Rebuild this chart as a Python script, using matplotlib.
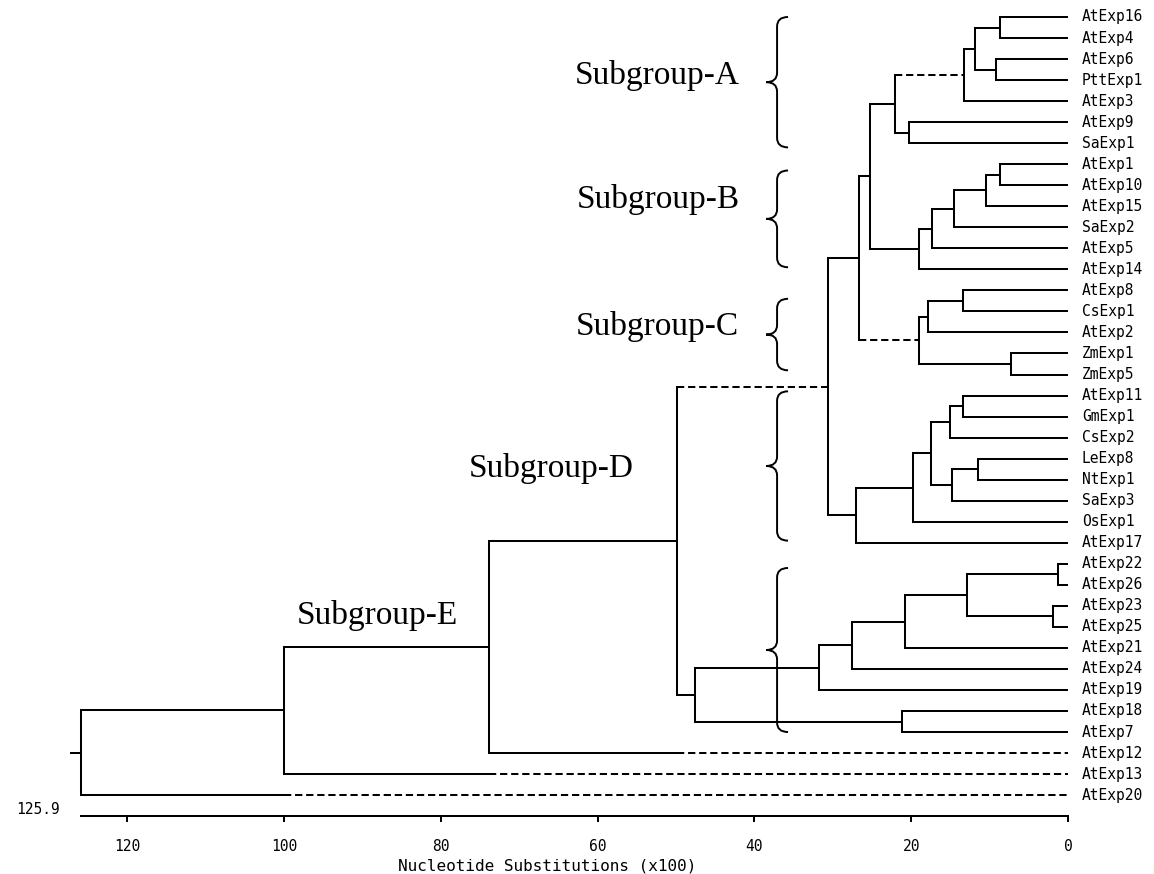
import matplotlib.pyplot as plt
from matplotlib.path import Path
from matplotlib.patches import PathPatch

# leaf order, top to bottom
leaves = ["AtExp16", "AtExp4", "AtExp6", "PttExp1", "AtExp3", "AtExp9", "SaExp1",
          "AtExp1", "AtExp10", "AtExp15", "SaExp2", "AtExp5", "AtExp14",
          "AtExp8", "CsExp1", "AtExp2", "ZmExp1", "ZmExp5",
          "AtExp11", "GmExp1", "CsExp2", "LeExp8", "NtExp1", "SaExp3", "OsExp1", "AtExp17",
          "AtExp22", "AtExp26", "AtExp23", "AtExp25", "AtExp21", "AtExp24", "AtExp19",
          "AtExp18", "AtExp7", "AtExp12", "AtExp13", "AtExp20"]

# internal nodes: (node, child, child, height in substitutions x100)
merges = [
    ("n1", "AtExp16", "AtExp4", 8.7),
    ("n2", "AtExp6", "PttExp1", 9.2),
    ("n3", "n1", "n2", 11.8),
    ("n4", "n3", "AtExp3", 13.2),
    ("n5", "AtExp9", "SaExp1", 20.3),
    ("n6", "n4", "n5", 22.0),
    ("n7", "AtExp1", "AtExp10", 8.7),
    ("n8", "n7", "AtExp15", 10.4),
    ("n9", "n8", "SaExp2", 14.5),
    ("n10", "n9", "AtExp5", 17.3),
    ("n11", "n10", "AtExp14", 19.0),
    ("n12", "n6", "n11", 25.3),
    ("n13", "AtExp8", "CsExp1", 13.4),
    ("n14", "n13", "AtExp2", 17.9),
    ("n15", "ZmExp1", "ZmExp5", 7.3),
    ("n16", "n14", "n15", 19.0),
    ("n17", "n12", "n16", 26.6),
    ("n18", "AtExp11", "GmExp1", 13.4),
    ("n19", "n18", "CsExp2", 15.1),
    ("n20", "LeExp8", "NtExp1", 11.5),
    ("n21", "n20", "SaExp3", 14.8),
    ("n22", "n19", "n21", 17.5),
    ("n23", "n22", "OsExp1", 19.8),
    ("n24", "n23", "AtExp17", 27.0),
    ("n25", "n17", "n24", 30.6),
    ("n26", "AtExp22", "AtExp26", 1.3),
    ("n27", "AtExp23", "AtExp25", 1.9),
    ("n28", "n26", "n27", 12.9),
    ("n29", "n28", "AtExp21", 20.8),
    ("n30", "n29", "AtExp24", 27.5),
    ("n31", "n30", "AtExp19", 31.7),
    ("n32", "AtExp18", "AtExp7", 21.2),
    ("n33", "n31", "n32", 47.6),
    ("n34", "n25", "n33", 49.85),
    ("n35", "n34", "AtExp12", 73.8),
    ("n36", "n35", "AtExp13", 100.0),
    ("n37", "n36", "AtExp20", 125.9),
]

# branches drawn dashed over their whole length
dashed_branches = ["n4", "n16", "n25"]
# long leaf branches turn dashed past this height
dash_from = {"AtExp12": 49.85, "AtExp13": 73.8, "AtExp20": 100.0}

root_height = 125.9
xticks = [0, 20, 40, 60, 80, 100, 120]

subgroups = ["Subgroup-A", "Subgroup-B", "Subgroup-C", "Subgroup-D", "Subgroup-E"]
# brace extent in leaf rows and label anchor (x, row)
brace_spans = [(0.0, 6.2), (7.3, 11.9), (13.4, 16.8), (17.8, 24.9), (26.2, 34.0)]
label_pos = [(41.8, 2.76), (41.8, 8.7), (42.0, 14.74), (55.4, 21.45), (77.8, 28.44)]

LW = 1.45
DASH = (3.6, 1.9)

fig = plt.figure(figsize=(11.54, 8.74), dpi=100)
ax = fig.add_axes([0, 0.0662, 1, 0.9338])
ax.set_xlim(136.2, -10.97)
ax.set_ylim(len(leaves), -0.808)

ypos = {name: i for i, name in enumerate(leaves)}
xpos = {name: 0.0 for name in leaves}
for node, a, b, h in merges:
    ypos[node] = (ypos[a] + ypos[b]) / 2
    xpos[node] = h


def branch(x0, x1, y, dashed=False):
    if dashed:
        ax.plot([x0, x1], [y, y], color="black", lw=LW, dashes=DASH,
                solid_capstyle="butt")
    else:
        ax.plot([x0, x1], [y, y], color="black", lw=LW, solid_capstyle="butt")


for node, a, b, h in merges:
    ax.plot([h, h], [ypos[a], ypos[b]], color="black", lw=LW,
            solid_capstyle="projecting")
    for child in (a, b):
        if child in dash_from:
            mid = dash_from[child]
            branch(h, mid, ypos[child])
            branch(mid, xpos[child], ypos[child], dashed=True)
        else:
            branch(h, xpos[child], ypos[child], dashed=child in dashed_branches)

# short stem into the root
root = merges[-1][0]
branch(root_height + 1.4, root_height, ypos[root])

for name in leaves:
    ax.text(-1.78, ypos[name], name, ha="left", va="center",
            fontsize=10.5, family="DejaVu Sans Mono")


def brace(y0, y1, x_tip=38.5, x_mid=37.1, x_end=35.7, ry=0.45):
    ym = (y0 + y1) / 2
    verts = [(x_end, y0),
             (x_mid, y0), (x_mid, y0 + ry),
             (x_mid, ym - ry),
             (x_mid, ym), (x_tip, ym),
             (x_mid, ym), (x_mid, ym + ry),
             (x_mid, y1 - ry),
             (x_mid, y1), (x_end, y1)]
    codes = [Path.MOVETO, Path.CURVE3, Path.CURVE3, Path.LINETO,
             Path.CURVE3, Path.CURVE3, Path.CURVE3, Path.CURVE3,
             Path.LINETO, Path.CURVE3, Path.CURVE3]
    ax.add_patch(PathPatch(Path(verts, codes), fill=False, lw=1.4,
                           edgecolor="black"))


for label, (y0, y1), (lx, ly) in zip(subgroups, brace_spans, label_pos):
    brace(y0, y1)
    ax.text(lx, ly, label, ha="right", va="center", fontsize=24,
            family="Liberation Serif")

# distance scale along the bottom
for side in ("left", "right", "top"):
    ax.spines[side].set_visible(False)
ax.spines["bottom"].set_bounds(0, root_height)
ax.spines["bottom"].set_linewidth(LW)
ax.set_yticks([])
ax.set_xticks(xticks)
ax.tick_params(axis="x", direction="out", length=4.3, width=LW, pad=12,
               labelsize=10.5, labelfontfamily="DejaVu Sans Mono")
ax.set_xlabel("Nucleotide Substitutions (x100)", fontsize=11.5,
              family="DejaVu Sans Mono")
ax.xaxis.set_label_coords(0.474, -0.0613)
ax.xaxis.label.set_verticalalignment("center")
ax.text(128.6, len(leaves) - 0.3, f"{root_height}", ha="right", va="center",
        fontsize=10.5, family="DejaVu Sans Mono")

fig.savefig("out.png", dpi=100)
